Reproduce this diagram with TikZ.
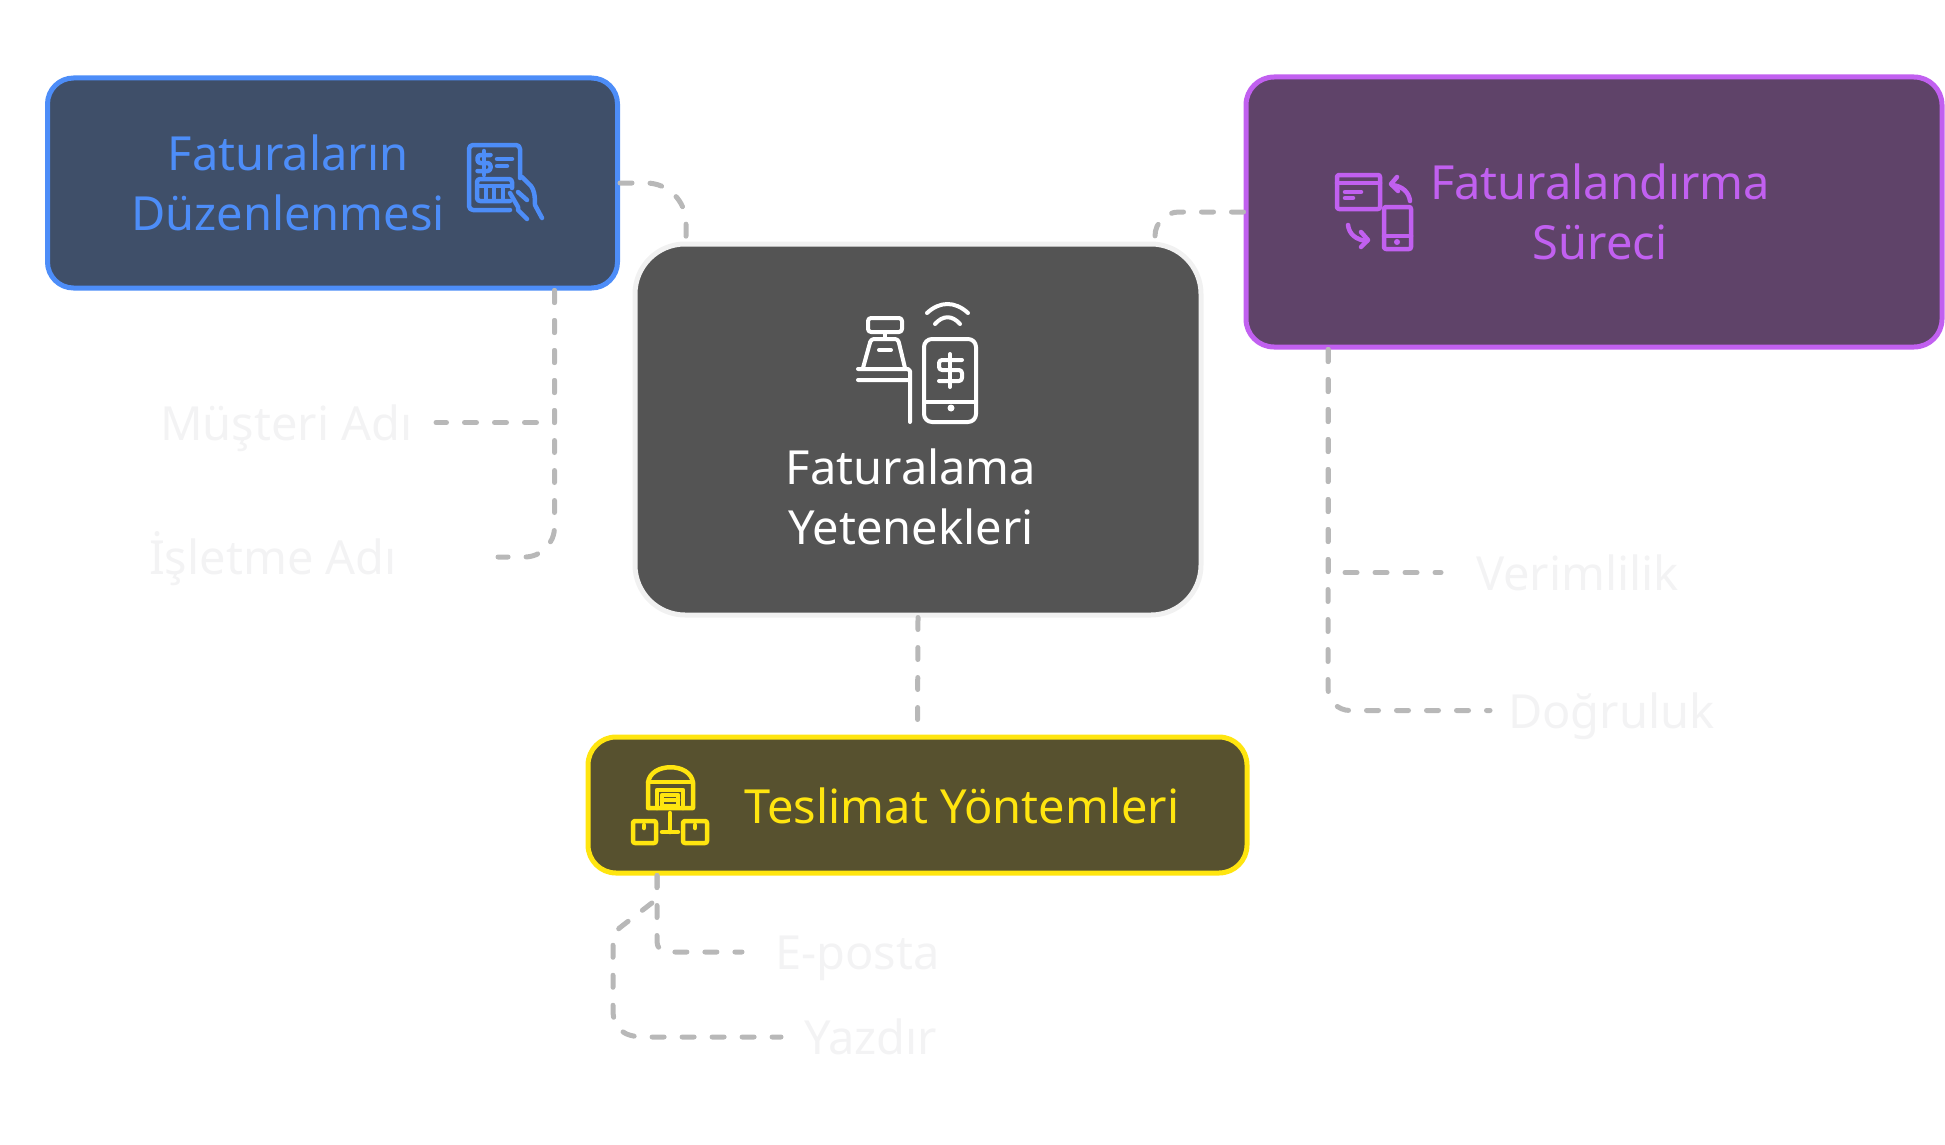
\documentclass[tikz,border=0pt]{standalone}
\usepackage{fontspec}
\setmainfont{Noto Sans}
\usepackage{tikz}
\usetikzlibrary{positioning,calc,arrows.meta}
\definecolor{bluefill}{HTML}{3F4F69}
\definecolor{blueline}{HTML}{4D8DF8}
\definecolor{purplefill}{HTML}{5F4369}
\definecolor{purpleline}{HTML}{C160F0}
\definecolor{darkfill}{HTML}{545454}
\definecolor{darkline}{HTML}{F1F1F1}
\definecolor{yellowfill}{HTML}{57512F}
\definecolor{yellowline}{HTML}{FFE50F}
\definecolor{linkgray}{HTML}{B8B8B8}
\definecolor{leafgray}{HTML}{F3F3F4}
\tikzset{
  bigbox/.style={draw,line width=5pt,rounded corners=26pt,inner sep=0pt},
  boxtext/.style={align=center,font=\fontsize{47}{60}\selectfont,inner sep=0pt},
  leaftext/.style={text=leafgray,font=\fontsize{47}{60}\selectfont,inner sep=0pt,text height=35pt,text depth=0pt},
  link/.style={draw=linkgray,line width=5pt,line cap=round,dash pattern=on 12pt off 18pt},
  iconline/.style={line width=4.5pt,line cap=round,line join=round}
}
\begin{document}
\begin{tikzpicture}[x=1pt,y=-1pt]
\useasboundingbox (0,0) rectangle (1945,1145);
\node[bigbox,fill=bluefill,draw=blueline,minimum width=570pt,minimum height=210pt] (billing) at (332.5,183) {};
\node[bigbox,fill=purplefill,draw=purpleline,minimum width=696pt,minimum height=270pt,rounded corners=28pt] (process) at (1594,212) {};
\node[bigbox,fill=darkfill,draw=darkline,minimum width=566pt,minimum height=371pt,rounded corners=50pt] (center) at (918,429.5) {};
\node[bigbox,fill=yellowfill,draw=yellowline,minimum width=659pt,minimum height=136pt,rounded corners=28pt] (delivery) at (917.5,805) {};
\node[boxtext,text=blueline] (billingtext) at (288,183) {Faturaların\\Düzenlenmesi};
\node[boxtext,text=purpleline] (processtext) at (1600,212) {Faturalandırma\\Süreci};
\node[boxtext,text=white] (centertext) at (911,497) {Faturalama\\Yetenekleri};
\node[boxtext,text=yellowline] (deliverytext) at (962,806) {Teslimat Yöntemleri};
\node[leaftext,anchor=east] (customer) at (413,422.5) {Müşteri Adı};
\node[leaftext,anchor=east] (company) at (397,557) {İşletme Adı};
\node[leaftext,anchor=west] (efficiency) at (1476,572.5) {Verimlilik};
\node[leaftext,anchor=west] (accuracy) at (1508,710.5) {Doğruluk};
\node[leaftext,anchor=west] (email) at (775,952) {E-posta};
\node[leaftext,anchor=west] (print) at (804,1037) {Yazdır};
\draw[link,rounded corners=40pt] (billing.east) -| ([xshift=-232pt]center.north);
\draw[link,rounded corners=24pt] (process.west) -| ([xshift=237pt]center.north);
\draw[link] ([xshift=222pt]billing.south) |- ([xshift=23pt]customer.east);
\draw[link,rounded corners=30pt] ([xshift=222pt]billing.south) |- ([xshift=101pt]company.east);
\draw[link] ([xshift=-266pt]process.south) |- ([xshift=-35pt]efficiency.west);
\draw[link,rounded corners=22pt] ([xshift=-266pt]process.south) |- ([xshift=-18pt]accuracy.west);
\draw[link] (center.south) -- (delivery.north);
\draw[link,rounded corners=10pt] ([xshift=-260.5pt]delivery.south) |- ([xshift=-33pt]email.west);
\draw[link] ([xshift=-260.5pt]delivery.south) -- (657,899) -- (622,926) .. controls (615,931) and (613,936) .. (613,945) -- (613,1010) .. controls (613,1030) and (625,1037) .. (645,1037) -- ([xshift=-23pt]print.west);
\begin{scope}[iconline,draw=blueline]
\draw (510,210) -- (473,210) arc[start angle=90,end angle=180,radius=4] -- (469,149) arc[start angle=180,end angle=270,radius=4] -- (516,145) arc[start angle=270,end angle=360,radius=4] -- (520,178);
\draw[rounded corners=3pt] (490.5,155) -- (477.5,155) -- (477.5,163) -- (490.5,163) -- (490.5,171) -- (477.5,171);
\draw (484,151) -- (484,175);
\draw (497,159) -- (512,159) (497,166) -- (507,166);
\draw[rounded corners=3pt] (510,201) -- (477,201) -- (477,179) -- (512,179) -- (512,188);
\draw[line width=3.5pt] (477,186) -- (512,186) (486,186) -- (486,201) (494,186) -- (494,201) (503,186) -- (503,201);
\draw (522,177) -- (531,186) .. controls (534,190) and (535,195) .. (535,205) -- (542,218);
\draw (510,193) -- (518,207) -- (518,210) -- (527,219) (518,192) -- (527,200);
\end{scope}
\begin{scope}[iconline,draw=white,line width=4pt]
\draw[rounded corners=3pt] (868,318) rectangle (902,332);
\draw (885,332) -- (885,338) (879,350) -- (891,350);
\draw[rounded corners=3pt] (863,368) -- (871,339) -- (898,339) -- (905,368);
\draw (858,369) -- (908,369) -- (910,371) -- (910,422) (858,380) -- (909,380);
\draw[rounded corners=8pt] (924,339) rectangle (976,422);
\draw (924,402) -- (976,402);
\fill[white] (951,408) circle (3.5);
\draw[rounded corners=3pt] (962,360) -- (939,360) -- (939,370) -- (962,370) -- (962,381) -- (939,381);
\draw (950,354) -- (950,387);
\draw (927,313) .. controls (940,301) and (955,301) .. (968,313);
\draw (935,324) .. controls (943,315) and (952,315) .. (960,324);
\end{scope}
\begin{scope}[iconline,draw=purpleline]
\draw[rounded corners=2pt] (1337,175) rectangle (1380,209);
\draw (1337,183) -- (1380,183) (1345,192) -- (1361,192) (1345,198) -- (1353,198);
\draw[rounded corners=2pt] (1384,207) rectangle (1411,249);
\draw (1384,236) -- (1411,236);
\fill[purpleline] (1397,242) circle (3);
\draw (1410,201) .. controls (1409,192) and (1402,186) .. (1392,185);
\draw (1397,177) -- (1391,184) -- (1398,191);
\draw (1348,225) .. controls (1349,234) and (1356,240) .. (1367,241);
\draw (1361,232) -- (1368,240) -- (1361,247);
\end{scope}
\begin{scope}[iconline,draw=yellowline]
\draw (648,808) -- (648,783) .. controls (650,762) and (691,762) .. (693,783) -- (693,808) -- cycle;
\draw (648,782) -- (693,782);
\draw (657,808) -- (657,790) -- (683,790) -- (683,808);
\draw (662,795) rectangle (678,806);
\draw (662,800) -- (678,800);
\draw (670,813) -- (670,832) (662,832) -- (678,832);
\draw[rounded corners=2pt] (633,821) rectangle (656,843);
\draw[rounded corners=2pt] (683,821) rectangle (707,843);
\draw (644,825) -- (644,828) (695,825) -- (695,828);
\end{scope}
\end{tikzpicture}
\end{document}
